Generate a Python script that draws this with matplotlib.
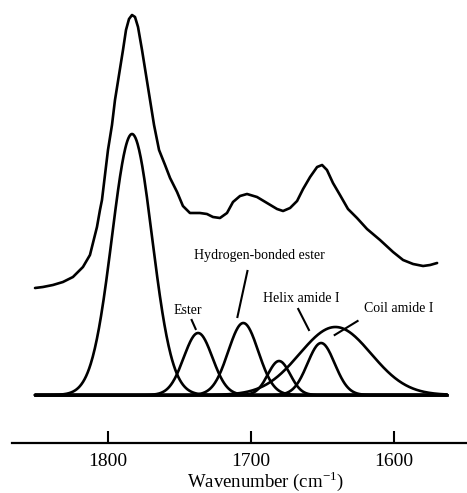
import numpy as np
import matplotlib
matplotlib.use("Agg")
import matplotlib.pyplot as plt

plt.rcParams["font.family"] = ["Liberation Serif", "DejaVu Serif"]
plt.rcParams["mathtext.fontset"] = "custom"
plt.rcParams["mathtext.rm"] = "Liberation Serif"

# measured spectrum (offset above the fitted bands), arbitrary units
spec_wn = [1851.0, 1845.5, 1838.5, 1831.5, 1824.5, 1817.5, 1812.6, 1810.5, 1807.7,
           1805.6, 1804.2, 1802.1, 1800.0, 1797.2, 1795.1, 1792.3, 1789.5, 1787.4,
           1785.3, 1783.2, 1781.1, 1779.0, 1776.2, 1773.4, 1770.6, 1767.8, 1764.3,
           1760.1, 1756.6, 1751.7, 1747.6, 1742.7, 1735.7, 1730.8, 1726.6, 1721.7,
           1716.8, 1712.6, 1707.7, 1702.8, 1695.8, 1688.8, 1681.8, 1677.6, 1672.7,
           1667.8, 1663.6, 1658.7, 1653.8, 1650.3, 1646.9, 1642.7, 1637.8, 1632.2,
           1625.9, 1618.9, 1609.8, 1600.7, 1593.7, 1586.7, 1579.7, 1574.8, 1569.9]
spec_abs = [107, 108, 110, 113, 118, 128, 140, 152, 168,
            185, 195, 220, 245, 270, 295, 320, 345, 365,
            376, 380, 378, 368, 345, 320, 295, 270, 245,
            230, 217, 203, 189, 182, 182, 181, 178, 177,
            182, 193, 199, 201, 198, 192, 186, 184, 187,
            194, 206, 218, 228, 230, 225, 212, 200, 186,
            177, 166, 155, 143, 135, 131, 129, 130, 132]

# fitted gaussian bands: centre (cm-1), height, sigma (cm-1)
band_center = [1783.2, 1737.0, 1705.4, 1680.4, 1651.0, 1641.0]
band_height = [261, 62, 72, 34, 52, 68]
band_sigma = [14.0, 10.0, 10.5, 7.8, 9.5, 25.0]

labels = ["Ester", "Hydrogen-bonded ester", "Helix amide I", "Coil amide I"]
label_xy = [(1744, 85), (1694, 140), (1665, 96), (1597, 86)]
leader_from = [(1741.5, 75), (1702.5, 124), (1667, 86), (1625.5, 74)]
leader_to = [(1738.7, 66), (1709.5, 78), (1659.5, 65), (1641.5, 60)]

wn_lo, wn_hi = 1563, 1851

fig = plt.figure(figsize=(4.67, 4.93), dpi=100)
ax = fig.add_axes([12 / 467, 50 / 493, 455 / 467, 443 / 493])

x = np.linspace(wn_lo, wn_hi, 800)
for c, h, s in zip(band_center, band_height, band_sigma):
    ax.plot(x, h * np.exp(-0.5 * ((x - c) / s) ** 2), color="black", lw=1.9,
            solid_capstyle="round")
ax.plot([wn_lo, wn_hi], [0, 0], color="black", lw=2.0)

ax.plot(spec_wn, spec_abs, color="black", lw=1.9, solid_joinstyle="round",
        solid_capstyle="round")

for lab, (tx, ty), (x0, y0), (x1, y1) in zip(labels, label_xy, leader_from, leader_to):
    ax.text(tx, ty, lab, ha="center", va="center", fontsize=10)
    ax.plot([x0, x1], [y0, y1], color="black", lw=1.5)

ax.set_xlim(1867.1, 1549.0)
ax.set_ylim(-48, 395)
ax.set_yticks([])
ax.set_xticks([1800, 1700, 1600])
for side in ["left", "right", "top"]:
    ax.spines[side].set_visible(False)
ax.spines["bottom"].set_linewidth(1.6)
ax.tick_params(axis="x", direction="in", length=9, width=1.5, pad=7, labelsize=14)
ax.set_xlabel("Wavenumber (cm$^{\\mathregular{-1}}$)", fontsize=13.5)
ax.xaxis.set_label_coords(0.558, -0.058)

fig.savefig("out.png", dpi=100)
